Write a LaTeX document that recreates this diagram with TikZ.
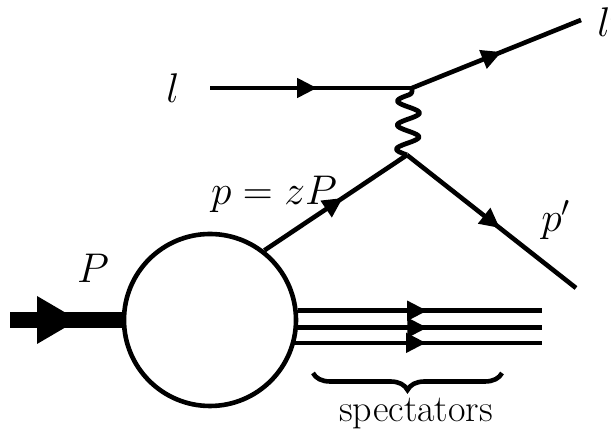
\documentclass[tikz,border=0pt]{standalone}
\usetikzlibrary{arrows.meta,decorations.markings,decorations.pathreplacing,calc}
\begin{document}
\begin{tikzpicture}[x=0.5pt,y=-0.5pt,line width=2.3pt,
  lbl/.style={inner sep=0pt,font=\fontsize{21}{25}\selectfont},
  fermion/.style={postaction={decorate},decoration={markings,mark=at position #1 with {\arrow{Triangle[length=10pt,width=9.5pt]}}}},
  fermion/.default=0.55,
  photonline/.style={line width=2.4pt,line join=round},
  blobstyle/.style={circle,draw,minimum size=86pt,inner sep=0pt},
  hadron/.style={line width=8pt},
  hadronhead/.style={fill=black,draw=none},
  spbrace/.style={decorate,decoration={brace,mirror,amplitude=8.5pt},line width=2.3pt}
  ]
\useasboundingbox (0,0) rectangle (611,431);
\node[blobstyle] (blob) at (210,320) {};
\coordinate (v1) at (412,88);
\coordinate (v2) at (407,155);
\coordinate (lin) at (210,88);
\coordinate (lout) at (581,20);
\coordinate (pout) at (576,288);
\coordinate (pin) at (10,320);
\coordinate (htip) at (78,320);
\coordinate (send) at (542,0);
\coordinate (b1) at (313,373);
\coordinate (b2) at (502,373);

\draw[fermion=0.53] (lin) -- (v1);
\draw[fermion=0.53] (v1) -- (lout);
\draw[photonline] (v1) .. controls +(0,4) and +(4,-1.4) .. (408.5,95)
  .. controls +(-14.7,5.1) and +(-14.7,-5.1) .. (408.5,107)
  .. controls +(14.7,5.1) and +(14.7,-5.1) .. (408.5,119)
  .. controls +(-14.7,5.1) and +(-14.7,-5.1) .. (408,131)
  .. controls +(14.7,5.1) and +(14.7,-5.1) .. (408,143)
  .. controls +(-14.7,5.1) and +(-14.7,-5.1) .. (v2);
\draw[fermion=0.55] (blob.52) -- (v2);
\draw[fermion=0.55] (v2) -- (pout);
\draw[hadron] (pin) -- (blob.west);
\path[hadronhead] (htip) -- ++(-41,-24) -- ++(0,48) -- cycle;
\foreach \a in {6,-5,-15} \draw[fermion=0.53] (blob.\a) -- (blob.\a -| send);
\draw[spbrace] (b1) -- (b2);

\node[lbl,anchor=base] (ll) at (173,103) {$l$};
\node[lbl,anchor=base west] (llp) at (595,37) {$l'$};
\node[lbl,anchor=base] (lp) at (274,205) {$p=zP$};
\node[lbl,anchor=base] (lpp) at (556,232) {$p'$};
\node[lbl,anchor=base] (lP) at (93,283) {$P$};
\node[lbl,anchor=base,font=\fontsize{19}{23}\selectfont] (spec) at (416,422) {spectators};
\end{tikzpicture}
\end{document}
